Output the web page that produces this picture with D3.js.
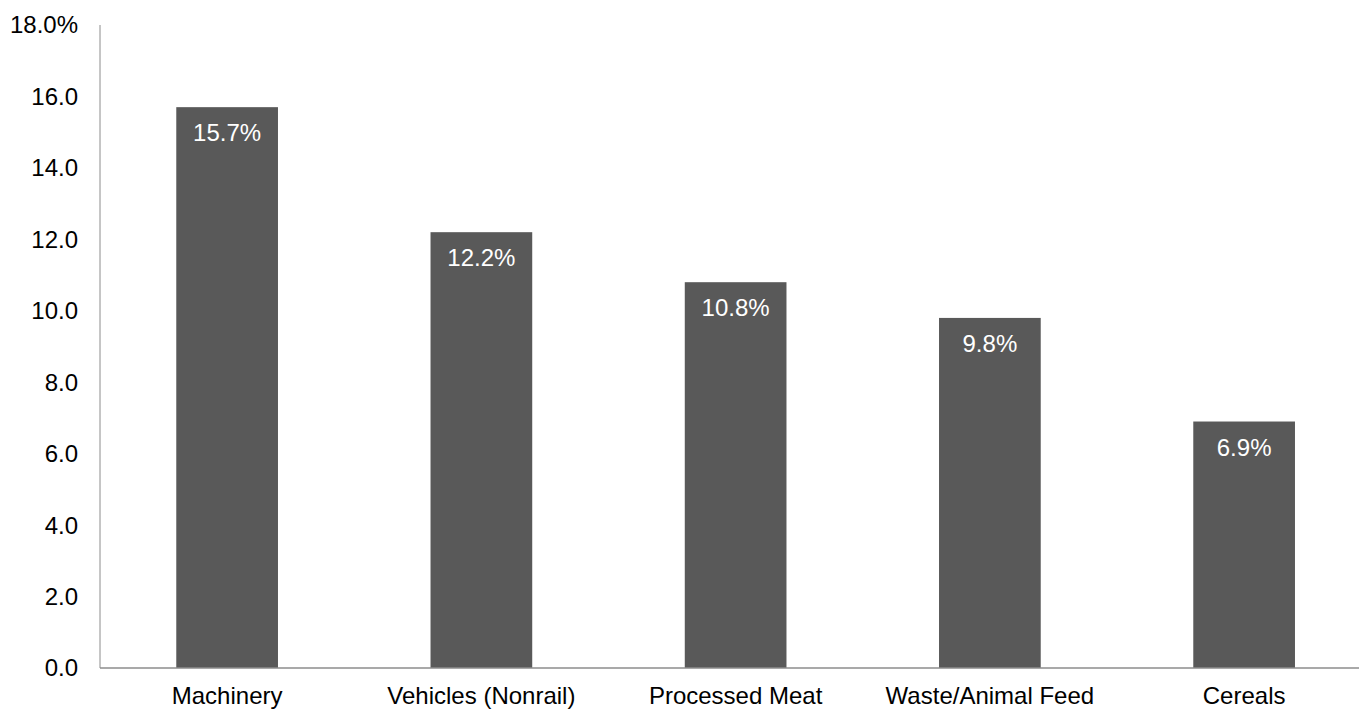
<!DOCTYPE html>
<html><head><meta charset="utf-8">
<script src="https://cdn.jsdelivr.net/npm/d3@7"></script>
<style>body{margin:0;background:#fff}svg{display:block}text{font-family:"Liberation Sans",Arial,sans-serif}</style>
</head><body><svg id="c" width="1359" height="709"></svg>
<script>
const categories = ["Machinery","Vehicles (Nonrail)","Processed Meat","Waste/Animal Feed","Cereals"];
const values = [15.7,12.2,10.8,9.8,6.9];
const yTicks = [0,2,4,6,8,10,12,14,16,18];

const svg = d3.select("#c");
const x = d3.scaleBand().domain(categories).range([100,1371.25]).padding(0);
const y = d3.scaleLinear().domain([0,18]).range([668,25]);
const bw = x.bandwidth();

svg.selectAll("rect.bar").data(values).join("rect").attr("class","bar")
  .attr("x",(d,i)=>x(categories[i])+bw*0.3).attr("width",bw*0.4)
  .attr("y",d=>y(d)).attr("height",d=>y(0)-y(d)).attr("fill","#595959");

svg.selectAll("text.lbl").data(values).join("text").attr("class","lbl")
  .attr("x",(d,i)=>x(categories[i])+bw/2).attr("y",d=>y(d)+34)
  .attr("text-anchor","middle").attr("fill","#fff").attr("font-size",24)
  .text(d=>d.toFixed(1)+"%");

// y axis
svg.append("line").attr("x1",100).attr("x2",100).attr("y1",y(18)).attr("y2",y(0))
  .attr("stroke","#8c8c8c").attr("stroke-width",1);
svg.append("line").attr("x1",100).attr("x2",1359).attr("y1",y(0)).attr("y2",y(0))
  .attr("stroke","#8c8c8c").attr("stroke-width",1.3);

svg.selectAll("text.yt").data(yTicks).join("text").attr("class","yt")
  .attr("x",78).attr("y",d=>y(d)).attr("dy","0.35em").attr("text-anchor","end")
  .attr("font-size",24).attr("fill","#000")
  .text(d=>d.toFixed(1)+(d===18?"%":""));

svg.selectAll("text.xt").data(categories).join("text").attr("class","xt")
  .attr("x",d=>x(d)+bw/2).attr("y",704).attr("text-anchor","middle")
  .attr("font-size",24).attr("fill","#000").text(d=>d);
</script></body></html>
